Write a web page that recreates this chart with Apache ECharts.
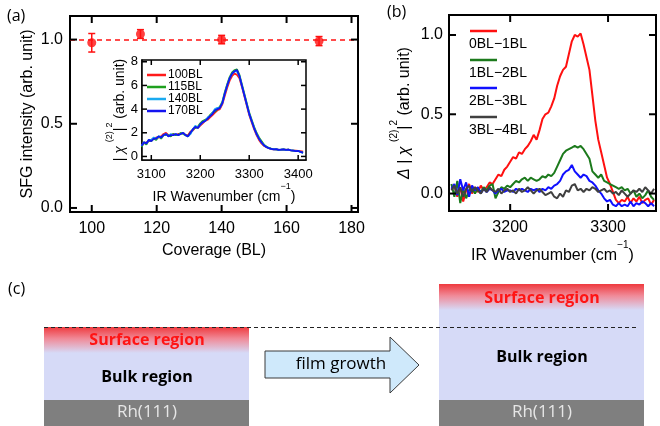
<!DOCTYPE html>
<html>
<head>
<meta charset="utf-8">
<script src="https://cdn.jsdelivr.net/npm/echarts@6/dist/echarts.min.js"></script>
<style>
  html, body { margin: 0; padding: 0; background: #fff; }
  #chart { width: 660px; height: 426px; }
</style>
</head>
<body>
<div id="chart"></div>
<script>
// ---- (a) SFG intensity versus film coverage ----
const coverage = [100, 115, 140, 170];
const sfgIntensity = [0.981, 1.033, 1.0, 0.991];
const sfgError = [0.055, 0.026, 0.025, 0.027];
const referenceLevel = 1.0;
const coverageTicks = [100, 120, 140, 160, 180];
const intensityTicks = [0, 0.5, 1.0];

// ---- (a) inset: |chi(2)|^2 spectra for thick films ----
const insetNames = ['100BL', '115BL', '140BL', '170BL'];
const insetWave = [3080, 3085, 3090, 3095, 3100, 3105, 3110, 3115, 3120, 3125, 3130, 3135, 3140, 3145, 3150, 3155, 3160, 3165, 3170, 3175,
  3180, 3185, 3190, 3195, 3200, 3205, 3210, 3215, 3220, 3225, 3230, 3235, 3240, 3245, 3250, 3255, 3260, 3265, 3270, 3275,
  3280, 3285, 3290, 3295, 3300, 3305, 3310, 3315, 3320, 3325, 3330, 3335, 3340, 3345, 3350, 3355, 3360, 3365, 3370, 3375,
  3380, 3385, 3390, 3395, 3400, 3405, 3410];
const chi100 = [0.9, 1.1, 1.2, 1.3, 1.4, 1.5, 1.6, 1.6, 1.7, 1.9, 2.0, 1.8, 1.8, 1.9, 1.8, 1.9, 1.9, 2.0, 1.8, 1.8,
  2.1, 2.2, 2.5, 2.4, 2.6, 2.8, 3.0, 3.1, 3.3, 3.5, 3.7, 3.9, 4.0, 4.4, 5.1, 5.8, 6.4, 6.8, 7.0, 6.9,
  6.6, 5.9, 5.1, 4.3, 3.5, 2.9, 2.3, 1.8, 1.4, 1.1, 0.9, 0.78, 0.7, 0.62, 0.6, 0.6, 0.57, 0.55, 0.6, 0.56,
  0.58, 0.53, 0.5, 0.5, 0.46, 0.45, 0.4];
const chi115 = [0.8, 1.2, 1.0, 1.4, 1.3, 1.5, 1.4, 1.7, 1.5, 1.8, 1.8, 1.8, 1.7, 1.9, 1.8, 1.8, 2.0, 1.9, 1.8, 1.7,
  2.0, 2.3, 2.4, 2.5, 2.8, 3.0, 3.1, 3.2, 3.5, 3.7, 3.8, 4.0, 4.2, 4.6, 5.4, 6.1, 6.7, 7.1, 7.3, 7.35,
  6.9, 6.1, 5.3, 4.5, 3.7, 3.1, 2.5, 2.0, 1.6, 1.3, 1.0, 0.85, 0.72, 0.66, 0.62, 0.6, 0.55, 0.57, 0.6, 0.55,
  0.57, 0.52, 0.5, 0.46, 0.47, 0.38, 0.32];
const chi140 = [0.9, 1.2, 1.1, 1.4, 1.4, 1.6, 1.5, 1.7, 1.6, 1.8, 1.9, 1.7, 1.9, 1.8, 1.9, 1.8, 1.9, 2.0, 1.8, 1.7,
  1.9, 2.3, 2.6, 2.4, 2.7, 2.9, 3.0, 3.3, 3.4, 3.7, 4.0, 4.1, 4.1, 4.5, 5.3, 6.0, 6.6, 7.0, 7.2, 7.2,
  6.8, 6.0, 5.2, 4.4, 3.6, 3.0, 2.4, 1.9, 1.5, 1.2, 0.95, 0.8, 0.7, 0.65, 0.6, 0.62, 0.55, 0.58, 0.6, 0.55,
  0.57, 0.53, 0.5, 0.45, 0.46, 0.37, 0.3];
const chi170 = [0.9, 1.2, 1.1, 1.4, 1.3, 1.5, 1.5, 1.7, 1.6, 1.8, 1.9, 1.7, 1.8, 1.8, 1.9, 1.8, 1.9, 2.0, 1.8, 1.7,
  2.0, 2.3, 2.5, 2.4, 2.7, 2.9, 3.0, 3.2, 3.4, 3.6, 3.9, 4.0, 4.1, 4.5, 5.3, 6.0, 6.6, 7.0, 7.2, 7.3,
  6.8, 6.0, 5.2, 4.4, 3.6, 3.0, 2.4, 1.9, 1.5, 1.2, 0.95, 0.8, 0.7, 0.65, 0.6, 0.62, 0.55, 0.58, 0.6, 0.55,
  0.58, 0.52, 0.5, 0.45, 0.48, 0.38, 0.32];
const insetColors = ['#ff1a1a', '#1fa01f', '#1aaaf0', '#1414f0'];
const insetWaveTicks = [3100, 3200, 3300, 3400];
const insetChiTicks = [0, 2, 4, 6, 8];

// ---- (b) difference spectra of the first layers ----
const diffNames = ['0BL\u22121BL', '1BL\u22122BL', '2BL\u22123BL', '3BL\u22124BL'];
const diffWave = [3140, 3143, 3146, 3149, 3152, 3155, 3158, 3161, 3164, 3167, 3170, 3173, 3176, 3179, 3182, 3185, 3188, 3191, 3194, 3197,
  3200, 3203, 3206, 3209, 3212, 3215, 3218, 3221, 3224, 3227, 3230, 3233, 3236, 3239, 3242, 3245, 3248, 3251, 3254, 3257,
  3260, 3263, 3266, 3269, 3272, 3275, 3278, 3281, 3284, 3287, 3290, 3293, 3296, 3299, 3302, 3305, 3308, 3311, 3314, 3317,
  3320, 3323, 3326, 3329, 3332, 3335, 3338, 3341, 3344, 3347];
const diff01 = [0.03, 0.05, -0.02, 0.04, -0.05, 0.02, 0.06, 0.0, 0.04, 0.01, 0.05, 0.02, 0.04, 0.07, 0.06, 0.09, 0.12, 0.11, 0.15, 0.17,
  0.2, 0.23, 0.22, 0.26, 0.25, 0.28, 0.3, 0.33, 0.37, 0.34, 0.4, 0.47, 0.5, 0.51, 0.55, 0.6, 0.68, 0.74, 0.78, 0.8,
  0.88, 0.96, 1.0, 0.99, 1.01, 0.94, 0.86, 0.78, 0.62, 0.46, 0.34, 0.26, 0.18, 0.1, 0.06, 0.01, -0.04, -0.06, -0.04, -0.05,
  -0.02, -0.06, -0.03, -0.05, -0.02, -0.06, -0.04, -0.03, -0.07, -0.04];
const diff12 = [0.06, -0.02, 0.08, -0.06, 0.03, -0.03, 0.02, 0.04, 0.0, 0.03, 0.01, 0.04, 0.02, 0.05, 0.06, -0.03, 0.01, 0.04, 0.03, 0.05,
  0.04, 0.06, 0.08, 0.07, 0.09, 0.1, 0.08, 0.1, 0.09, 0.08, 0.09, 0.11, 0.1, 0.12, 0.11, 0.13, 0.17, 0.21, 0.25, 0.27,
  0.28, 0.29, 0.3, 0.29, 0.3, 0.28, 0.25, 0.22, 0.14, 0.12, 0.1, 0.12, 0.08, 0.07, 0.06, 0.05, 0.04, 0.03, 0.04, 0.02,
  0.03, 0.0, 0.02, -0.02, 0.0, -0.03, -0.01, 0.02, -0.02, -0.04];
const diff23 = [0.03, 0.06, -0.01, 0.09, 0.02, 0.07, -0.02, 0.05, 0.02, 0.04, 0.0, 0.03, 0.01, 0.03, 0.02, 0.0, 0.02, 0.03, 0.01, 0.02,
  0.02, 0.01, 0.03, 0.02, 0.03, 0.02, 0.01, 0.03, 0.02, 0.03, 0.01, 0.03, 0.02, 0.04, 0.03, 0.05, 0.06, 0.08, 0.12, 0.14,
  0.15, 0.18, 0.14, 0.12, 0.1, 0.12, 0.11, 0.08, 0.07, 0.05, 0.02, 0.0, -0.03, -0.05, -0.04, -0.07, -0.08, -0.06, -0.08, -0.07,
  -0.08, -0.05, -0.08, -0.06, -0.07, -0.05, -0.06, -0.08, -0.06, -0.08];
const diff34 = [0.02, 0.05, 0.0, 0.04, -0.02, 0.03, 0.05, 0.01, 0.04, 0.02, 0.0, 0.03, 0.01, 0.04, 0.02, 0.01, 0.03, 0.0, 0.02, 0.03,
  0.01, 0.02, 0.0, 0.03, 0.01, 0.02, 0.04, 0.02, 0.0, 0.02, 0.03, 0.01, -0.01, 0.0, 0.01, -0.02, -0.03, 0.0, -0.02, 0.02,
  0.01, 0.05, 0.06, 0.02, 0.03, 0.01, 0.03, 0.02, 0.04, 0.03, 0.01, 0.02, 0.03, 0.01, 0.02, 0.0, 0.01, -0.01, 0.02, 0.0,
  -0.02, 0.0, 0.02, 0.01, 0.03, 0.01, 0.04, 0.02, 0.0, 0.03];
const diffColors = ['#ff1010', '#1c7a1c', '#1010ff', '#404040'];
const diffWaveTicks = [3200, 3300];
const diffTicks = [0, 0.5, 1.0];

// axis ranges of the three plots
const coverageRange = [93.3, 182], intensityRange = [-0.024, 1.14];
const insetWaveRange = [3081, 3416], insetChiRange = [-0.3, 8.15];
const diffWaveRange = [3137.5, 3349], diffRange = [-0.11, 1.126];

const SANS = '"Liberation Sans", Arial, sans-serif';
const DIAG = '"Open Sans", "Noto Sans", sans-serif';

const chart = echarts.init(document.getElementById('chart'), null, { renderer: 'canvas' });

const pairs = (xs, ys) => xs.map((x, i) => [x, ys[i]]);

function xAxis(grid, range, ticks, opt) {
  return {
    gridIndex: grid, type: 'value', min: range[0], max: range[1], position: 'bottom',
    splitLine: { show: false },
    axisLine: { show: true, onZero: false, lineStyle: { color: '#000', width: opt.lw } },
    axisTick: { show: false },
    axisLabel: { show: true, customValues: ticks, margin: opt.margin, color: '#000', fontSize: opt.fs, fontFamily: SANS,
      formatter: v => String(v) },
    name: opt.name, nameLocation: 'middle', nameGap: opt.gap,
    nameTextStyle: opt.nameStyle
  };
}
function yAxis(grid, range, ticks, opt) {
  return {
    gridIndex: grid, type: 'value', min: range[0], max: range[1], position: 'left',
    splitLine: { show: false },
    axisLine: { show: true, onZero: false, lineStyle: { color: '#000', width: opt.lw } },
    axisTick: { show: false },
    axisLabel: { show: true, customValues: ticks, margin: opt.margin, color: '#000', fontSize: opt.fs, fontFamily: SANS,
      formatter: opt.fmt },
    name: opt.name, nameLocation: 'middle', nameGap: opt.gap, nameRotate: 90,
    nameTextStyle: opt.nameStyle
  };
}

const supRich = (size) => ({
  n: { fontSize: size, fontFamily: SANS, color: '#000', lineHeight: size + 8, verticalAlign: 'bottom' },
  i: { fontSize: size, fontFamily: SANS, fontStyle: 'italic', color: '#000', lineHeight: size + 8, verticalAlign: 'bottom' },
  s: { fontSize: Math.round(size * 0.65), fontFamily: SANS, color: '#000', lineHeight: Math.round(size * 0.6), verticalAlign: 'top' }
});

const xAxes = [
  xAxis(0, coverageRange, coverageTicks, {
    lw: 2, margin: 9, fs: 16, name: 'Coverage (BL)', gap: 31,
    nameStyle: { fontSize: 16, fontFamily: SANS, color: '#000' }
  }),
  xAxis(1, insetWaveRange, insetWaveTicks, {
    lw: 1.5, margin: 8, fs: 13, name: '{n|IR Wavenumber (cm}{s|\u22121}{n|)}', gap: 19,
    nameStyle: { rich: supRich(14) }
  }),
  xAxis(2, diffWaveRange, diffWaveTicks, {
    lw: 2, margin: 9, fs: 16, name: '{n|IR Wavenumber (cm}{s|\u22121}{n|)}', gap: 29,
    nameStyle: { rich: supRich(16) }
  })
];
const yAxes = [
  yAxis(0, intensityRange, intensityTicks, {
    lw: 2, margin: 7, fs: 16, fmt: v => v.toFixed(1), name: 'SFG intensity (arb. unit)', gap: 34,
    nameStyle: { fontSize: 16, fontFamily: SANS, color: '#000' }
  }),
  yAxis(1, insetChiRange, insetChiTicks, {
    lw: 1.5, margin: 4, fs: 13, fmt: v => String(v),
    name: '{n|| }{i|\u03c7 }{s|(2)}{n||}{s|2}{n| (arb. unit)}', gap: 7,
    nameStyle: { rich: supRich(14) }
  }),
  yAxis(2, diffRange, diffTicks, {
    lw: 2, margin: 6, fs: 16, fmt: v => v.toFixed(1),
    name: '{i|\u0394}{n| | }{i|\u03c7 }{s|(2)}{n||}{s|2}{n| (arb. unit)}', gap: 36,
    nameStyle: { rich: supRich(16) }
  })
];

const series = [
  {
    type: 'scatter', xAxisIndex: 0, yAxisIndex: 0, z: 4,
    data: pairs(coverage, sfgIntensity),
    symbol: 'circle', symbolSize: 9,
    itemStyle: { color: '#ff1010' },
    markLine: {
      silent: true, symbol: 'none', label: { show: false },
      lineStyle: { color: '#ff1010', type: [5, 4], width: 1.5 },
      data: [{ yAxis: referenceLevel }]
    }
  },
  {
    type: 'custom', xAxisIndex: 0, yAxisIndex: 0, z: 3,
    data: coverage.map((c, i) => [c, sfgIntensity[i] - sfgError[i], sfgIntensity[i] + sfgError[i]]),
    encode: { x: 0, y: [1, 2] },
    renderItem: (params, api) => {
      const lo = api.coord([api.value(0), api.value(1)]);
      const hi = api.coord([api.value(0), api.value(2)]);
      const w = 3.5, st = { stroke: '#ff1010', lineWidth: 1.5 };
      return {
        type: 'group', children: [
          { type: 'line', shape: { x1: lo[0], y1: lo[1], x2: hi[0], y2: hi[1] }, style: st },
          { type: 'line', shape: { x1: lo[0] - w, y1: lo[1], x2: lo[0] + w, y2: lo[1] }, style: st },
          { type: 'line', shape: { x1: hi[0] - w, y1: hi[1], x2: hi[0] + w, y2: hi[1] }, style: st }
        ]
      };
    }
  }
];

[chi100, chi115, chi140, chi170].forEach((ys, k) => {
  series.push({
    type: 'line', name: insetNames[k], xAxisIndex: 1, yAxisIndex: 1,
    data: pairs(insetWave, ys), showSymbol: false, smooth: false,
    lineStyle: { color: insetColors[k], width: 1.8 }, z: 5 + k
  });
});
[diff01, diff12, diff23, diff34].forEach((ys, k) => {
  series.push({
    type: 'line', name: diffNames[k], xAxisIndex: 2, yAxisIndex: 2,
    data: pairs(diffWave, ys), showSymbol: false, smooth: false,
    lineStyle: { color: diffColors[k], width: 2 }, z: 5 + k
  });
});

// legends and the layer sketch in part (c)
const graphics = [];
const txt = (text, x, y, o) => graphics.push({
  type: 'text', z: 100,
  style: Object.assign({ text, x, y, fill: '#000', textAlign: 'left', textVerticalAlign: 'middle',
    align: 'left', verticalAlign: 'middle', fontSize: 14, fontFamily: SANS }, o || {})
});

txt('(a)', 7, 16, { fontSize: 16, fontFamily: DIAG });
txt('(b)', 387, 12, { fontSize: 16, fontFamily: DIAG });
txt('(c)', 8, 289, { fontSize: 16, fontFamily: DIAG });

const insetRows = [75, 87, 99, 111];
insetNames.forEach((nm, k) => {
  graphics.push({ type: 'line', z: 100, shape: { x1: 147, y1: insetRows[k], x2: 166, y2: insetRows[k] },
    style: { stroke: insetColors[k], lineWidth: 2.5 } });
  txt(nm, 168, insetRows[k], { fontSize: 12 });
});

const diffRows = [31, 60, 88, 117];
diffNames.forEach((nm, k) => {
  graphics.push({ type: 'line', z: 100, shape: { x1: 470, y1: diffRows[k], x2: 497, y2: diffRows[k] },
    style: { stroke: diffColors[k], lineWidth: 2.5 } });
  txt(nm, 469, diffRows[k] + 13, { fontSize: 14 });
});

const lavender = '#d6daf7';
const rhGrey = '#7f7f7f';
const surfaceGrad = {
  type: 'linear', x: 0, y: 0, x2: 0, y2: 1,
  colorStops: [{ offset: 0, color: '#ef3a3e' }, { offset: 0.45, color: '#f08a98' }, { offset: 1, color: lavender }]
};
function block(x, surfTop, surfH, bulkBottom) {
  graphics.push({ type: 'rect', z: 50, shape: { x, y: surfTop, width: 205, height: surfH }, style: { fill: surfaceGrad } });
  graphics.push({ type: 'rect', z: 50, shape: { x, y: surfTop + surfH, width: 205, height: bulkBottom - surfTop - surfH }, style: { fill: lavender } });
  graphics.push({ type: 'rect', z: 50, shape: { x, y: bulkBottom, width: 205, height: 426 - bulkBottom }, style: { fill: rhGrey } });
}
block(44, 327, 26, 400);
block(439, 284, 26, 400);

graphics.push({ type: 'line', z: 60, shape: { x1: 44, y1: 327.5, x2: 637, y2: 327.5 },
  style: { stroke: '#222', lineWidth: 1, lineDash: [4, 3] } });

graphics.push({
  type: 'polygon', z: 60,
  shape: { points: [[265, 351], [390, 351], [390, 337], [419, 365], [390, 393], [390, 378], [265, 378]] },
  style: { fill: '#cfe9fb', stroke: '#3a3a3a', lineWidth: 1 }
});

const center = { textAlign: 'center', align: 'center', fontFamily: DIAG };
txt('film growth', 341, 364, Object.assign({}, center, { fontSize: 17 }));
txt('Surface region', 147, 340, Object.assign({}, center, { fontSize: 16, fontWeight: 'bold', fill: '#ff1414' }));
txt('Bulk region', 147, 377, Object.assign({}, center, { fontSize: 16, fontWeight: 'bold' }));
txt('Rh(111)', 147, 412, Object.assign({}, center, { fontSize: 17, fill: '#e6e6e6' }));
txt('Surface region', 542, 298, Object.assign({}, center, { fontSize: 16, fontWeight: 'bold', fill: '#ff1414' }));
txt('Bulk region', 542, 357, Object.assign({}, center, { fontSize: 16, fontWeight: 'bold' }));
txt('Rh(111)', 542, 412, Object.assign({}, center, { fontSize: 17, fill: '#e6e6e6' }));

chart.setOption({
  animation: false,
  backgroundColor: '#fff',
  grid: [
    { left: 70, top: 16, width: 288, height: 196, show: true, borderColor: '#000', borderWidth: 2, backgroundColor: 'transparent' },
    { left: 142, top: 60, width: 164, height: 100, show: true, borderColor: '#000', borderWidth: 1.5, backgroundColor: '#fff', z: 3 },
    { left: 449, top: 15, width: 207, height: 196, show: true, borderColor: '#000', borderWidth: 2, backgroundColor: 'transparent' }
  ],
  xAxis: xAxes,
  yAxis: yAxes,
  series,
  graphic: { elements: graphics }
});

// inward tick marks on all four sides, positioned through each plot's own axes
function addTicks(gridIndex, xTicks, yTicks, xr, yr, len, lw) {
  const px = p => chart.convertToPixel({ gridIndex }, p);
  const st = { stroke: '#000', lineWidth: lw };
  xTicks.forEach(v => {
    const b = px([v, yr[0]]), t = px([v, yr[1]]);
    if (!b || !t) return;
    graphics.push({ type: 'line', z: 90, shape: { x1: b[0], y1: b[1], x2: b[0], y2: b[1] - len }, style: st });
    graphics.push({ type: 'line', z: 90, shape: { x1: t[0], y1: t[1], x2: t[0], y2: t[1] + len }, style: st });
  });
  yTicks.forEach(v => {
    const l = px([xr[0], v]), r = px([xr[1], v]);
    if (!l || !r) return;
    graphics.push({ type: 'line', z: 90, shape: { x1: l[0], y1: l[1], x2: l[0] + len, y2: l[1] }, style: st });
    graphics.push({ type: 'line', z: 90, shape: { x1: r[0], y1: r[1], x2: r[0] - len, y2: r[1] }, style: st });
  });
}
addTicks(0, coverageTicks, intensityTicks, coverageRange, intensityRange, 7, 2);
addTicks(1, insetWaveTicks, insetChiTicks, insetWaveRange, insetChiRange, 5, 1.5);
addTicks(2, diffWaveTicks, diffTicks, diffWaveRange, diffRange, 7, 2);
chart.setOption({ graphic: { elements: graphics } });
</script>
</body>
</html>
